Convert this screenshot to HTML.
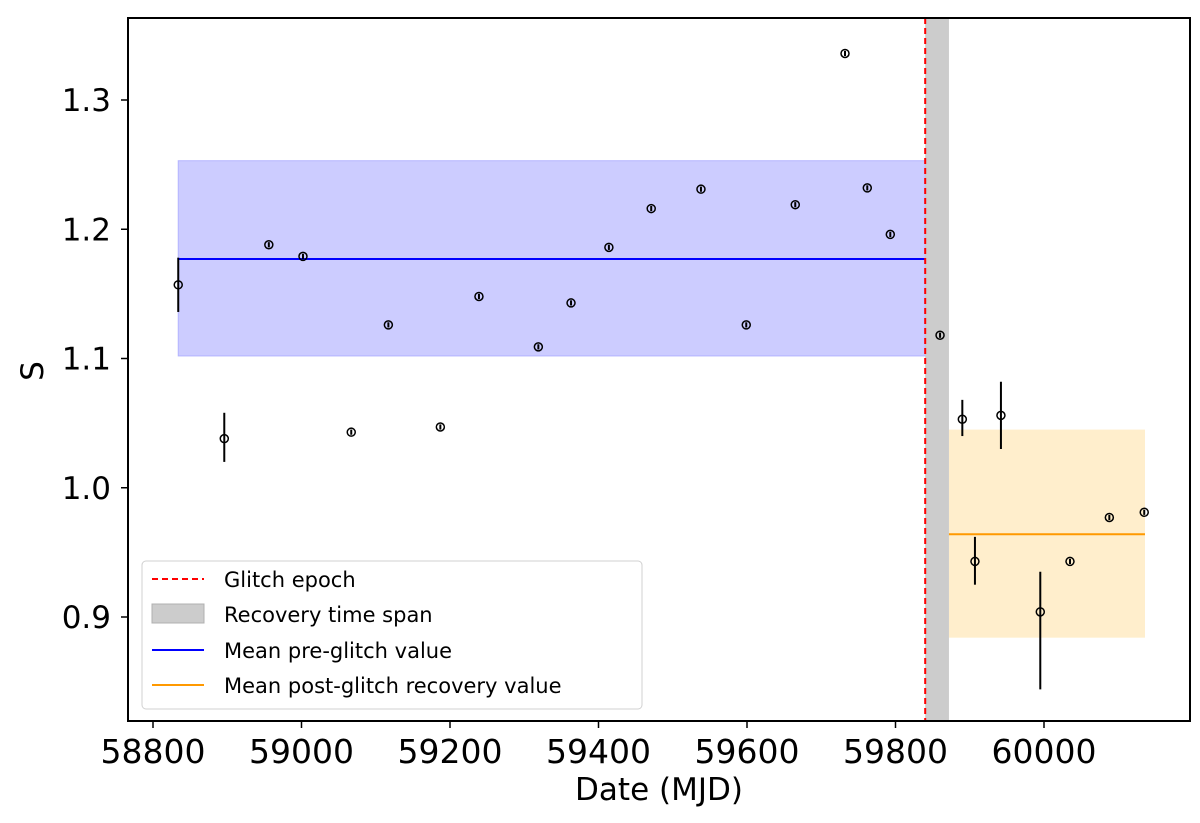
<!DOCTYPE html>
<html><head><meta charset="utf-8"><style>
html,body{margin:0;padding:0;background:#fff;}
svg{display:block;font-family:"DejaVu Sans","Liberation Sans",sans-serif;}
</style></head><body>
<svg id="chart" width="1200" height="823" viewBox="0 0 1200 823" xmlns="http://www.w3.org/2000/svg">
<g id="bands"></g>
<g id="marks"></g>
<g id="axes"></g>
<g id="legend" transform="translate(142,561)">
  <rect x="0" y="0" width="500" height="148" rx="4" fill="#fff" fill-opacity="0.85" stroke="#d0d0d0" stroke-width="1"/>
  <line x1="10" y1="18" x2="62" y2="18" stroke="#ff0000" stroke-width="2" stroke-dasharray="6,4"/>
  <text x="82" y="26" font-size="21">Glitch epoch</text>
  <rect x="10" y="43" width="52" height="19" fill="#cccccc" stroke="#b0b0b0"/>
  <text x="82" y="61" font-size="21">Recovery time span</text>
  <line x1="10" y1="89" x2="62" y2="89" stroke="#0000ff" stroke-width="2"/>
  <text x="82" y="97" font-size="21">Mean pre-glitch value</text>
  <line x1="10" y1="124" x2="62" y2="124" stroke="#ff9900" stroke-width="2"/>
  <text x="82" y="132" font-size="21">Mean post-glitch recovery value</text>
</g>
</svg>
<script>
const dates = [58834,58896,58956,59002,59067,59117,59187,59239,59319,59363,59414,59471,59538,59599,59665,59732,59762,59793,59860,59890,59942,59907,59995,60035,60088,60135];
const sValues = [1.157,1.038,1.188,1.179,1.043,1.126,1.047,1.148,1.109,1.143,1.186,1.216,1.231,1.126,1.219,1.336,1.232,1.196,1.118,1.053,1.056,0.943,0.904,0.943,0.977,0.981];
const sErrUp = [0.021,0.020,0.002,0.002,0.002,0.002,0.002,0.002,0.002,0.002,0.002,0.002,0.002,0.002,0.002,0.002,0.002,0.002,0.002,0.015,0.026,0.019,0.031,0.002,0.002,0.002];
const sErrDown = [0.021,0.018,0.002,0.002,0.002,0.002,0.002,0.002,0.002,0.002,0.002,0.002,0.002,0.002,0.002,0.002,0.002,0.002,0.002,0.013,0.026,0.018,0.060,0.002,0.002,0.002];
const xTicks = [58800,59000,59200,59400,59600,59800,60000];
const yTicks = [0.9,1.0,1.1,1.2,1.3];
const glitchEpoch = [59840];
const recoverySpan = [59840,59872];
const preMean = [58834,59840,1.177,1.102,1.253];
const postMean = [59872,60136,0.964,0.884,1.045];

const L=128,R=1190,T=18,B=721;
const X = v => 153 + (v-58800)*0.7425;
const Y = v => 100 + (1.3-v)*1292.5;
const NS="http://www.w3.org/2000/svg";
function mk(parent,tag,attrs){const e=document.createElementNS(NS,tag);for(const k in attrs)e.setAttribute(k,attrs[k]);parent.appendChild(e);return e;}
const bands=document.getElementById('bands'),marks=document.getElementById('marks'),axes=document.getElementById('axes');

let r=mk(bands,'rect',{x:X(preMean[0]),y:Y(preMean[4]),width:X(preMean[1])-X(preMean[0]),height:Y(preMean[3])-Y(preMean[4]),fill:'#ccccff',stroke:'#b3b3ff'});


r=mk(bands,'rect',{x:X(postMean[0]),y:Y(postMean[4]),width:X(postMean[1])-X(postMean[0]),height:Y(postMean[3])-Y(postMean[4]),fill:'#ffeecc'});


r=mk(bands,'rect',{x:X(recoverySpan[0]),y:T,width:X(recoverySpan[1])-X(recoverySpan[0]),height:B-T,fill:'#cccccc'});


r=mk(bands,'line',{x1:X(preMean[0]),x2:X(preMean[1]),y1:Y(preMean[2]),y2:Y(preMean[2]),stroke:'#0000ff','stroke-width':2});


r=mk(bands,'line',{x1:X(postMean[0]),x2:X(postMean[1]),y1:Y(postMean[2]),y2:Y(postMean[2]),stroke:'#ff9900','stroke-width':2});


r=mk(bands,'line',{x1:X(glitchEpoch[0]),x2:X(glitchEpoch[0]),y1:T,y2:B,stroke:'#ff0000','stroke-width':2,'stroke-dasharray':'6,4'});



dates.forEach((d,i)=>{
  const x=X(d),y=Y(sValues[i]);
  const eb=mk(marks,'line',{x1:x,x2:x,y1:Y(sValues[i]+sErrUp[i]),y2:Y(sValues[i]-sErrDown[i]),stroke:'#000','stroke-width':2});
  
  
  const c=mk(marks,'circle',{cx:x,cy:y,r:4,fill:'none',stroke:'#000','stroke-width':1.5});
  
  
});

let f=mk(axes,'rect',{x:L,y:T,width:R-L,height:B-T,fill:'none',stroke:'#000','stroke-width':2});


xTicks.forEach(v=>{
  const x=X(v);
  const t=mk(axes,'line',{x1:x,x2:x,y1:B,y2:B+7,stroke:'#000','stroke-width':1.5});
  
  
  const l=mk(axes,'text',{x:x,y:763,'font-size':33,'text-anchor':'middle'});
  l.textContent=String(v);
  
  
});
yTicks.forEach(v=>{
  const y=Y(v);
  const t=mk(axes,'line',{x1:L-7,x2:L,y1:y,y2:y,stroke:'#000','stroke-width':1.5});
  
  
  const l=mk(axes,'text',{x:L-17,y:y+11,'font-size':31,'text-anchor':'end'});
  l.textContent=v.toFixed(1);
  
  
});
let xl=mk(axes,'text',{x:659,y:800,'font-size':31,'text-anchor':'middle'});
xl.textContent='Date (MJD)';


let yl=mk(axes,'text',{x:0,y:0,'font-size':31,'text-anchor':'middle',transform:'translate(43,371) rotate(-90)'});
yl.textContent='S';


</script>
</body></html>
